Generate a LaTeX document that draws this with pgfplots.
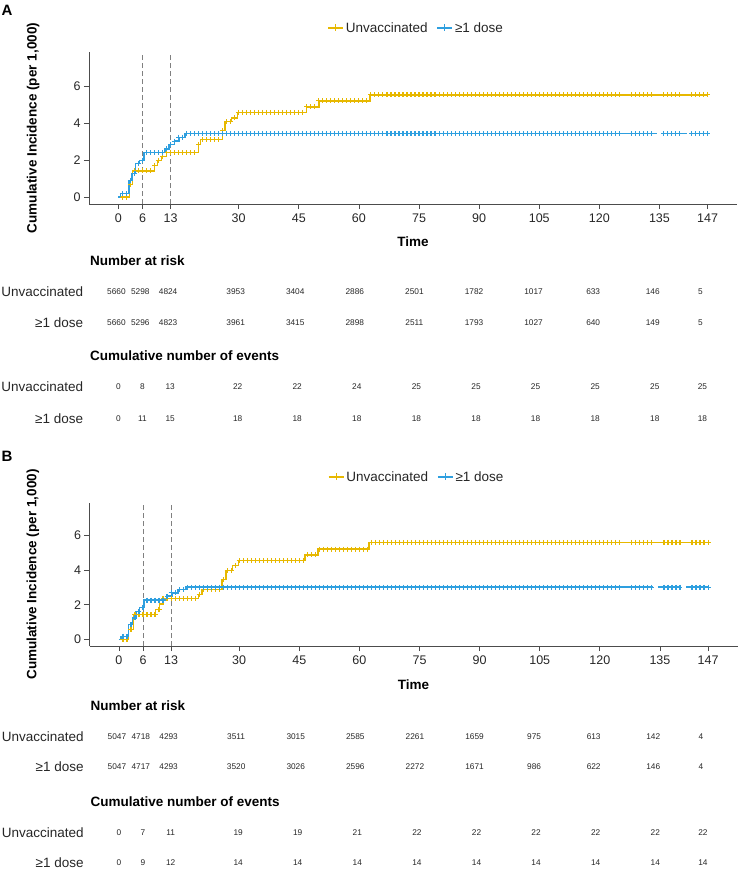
\documentclass[border=0pt]{standalone}
\usepackage{fontspec}
\setmainfont{Liberation Sans}
\usepackage{pgfplots}
\usepackage{pgfplotstable}
\pgfplotsset{compat=1.18}
\definecolor{yel}{HTML}{E7B800}
\definecolor{blu}{HTML}{2E9FDF}
\newcommand{\tickfont}{\fontsize{12.5}{15}\selectfont}
\newcommand{\labfont}{\fontsize{13.5}{16}\selectfont}
\newcommand{\numfont}{\fontsize{8.3}{10}\selectfont}
\pgfplotsset{
  mylegimg/.style={legend image code/.code={\draw[mark repeat=2,mark phase=2,##1] plot coordinates {(0pt,0pt)(7.5pt,0pt)(15pt,0pt)};}},
  kmaxis/.style={
    scale only axis, width=648pt,
    xmin=-7.35, xmax=154.35, ymin=-0.375, ymax=7.875,
    axis lines*=left,
    axis line style={black!70, line width=0.8pt},
    tick style={black!70, line width=0.8pt},
    tick align=outside, major tick length=5pt,
    xtick={0,6,13,30,45,60,75,90,105,120,135,147},
    ytick={0,2,4,6},
    /pgf/number format/assume math mode=true,
    tick label style={font=\tickfont, text=black!85},
    xticklabel style={yshift=-1.5pt},
    xlabel={Time}, ylabel={Cumulative Incidence (per 1,000)},
    label style={font=\bfseries\labfont},
    legend columns=2,
    legend style={draw=none, fill=none, font=\labfont, text=black!85, anchor=center,
      /tikz/every even column/.append style={column sep=7pt}},
    clip=false,
  },
  tabaxis/.style={
    scale only axis, width=648pt,
    xmin=-7.42, xmax=155.7, ymin=0, ymax=1,
    axis line style={draw=none}, tick style={draw=none},
    xtick=\empty, ytick={0,1},
    major tick length=0pt,
    yticklabels={{≥1 dose},{Unvaccinated}},
    yticklabel style={font=\labfont, text=black!85, inner sep=0pt, anchor=east, xshift=-5.7pt},
    title style={at={(axis description cs:0,1)}, anchor=west, yshift=25pt, xshift=1pt, font=\bfseries\labfont, inner sep=0pt},
    clip=false,
    nodes near coords, point meta=explicit symbolic,
    nodes near coords align=center,
    every node near coord/.append style={font=\numfont, text=black!85, inner sep=0pt},
  },
  curve/.style={const plot, line width=1.4pt},
  cens/.style={only marks, mark=+, mark size=2.5pt, mark options={line width=1.1pt}},
}
\pgfplotstableread{
t yA bA yB bB
1 0 0.18 0 0.19
2 0 0.18 0 0.19
3 0.7 0.91 0.58 0.87
4 1.42 1.29 1.44 1.25
5 1.42 1.82 1.44 1.63
6 1.42 2.0 1.44 1.83
7 1.42 2.41 1.44 2.27
8 1.42 2.41 1.44 2.27
9 1.72 2.41 1.44 2.27
10 2.0 2.41 1.73 2.27
11 2.2 2.41 2.37 2.27
12 2.42 2.62 2.37 2.5
13 2.42 2.86 2.37 2.69
14 2.42 3.04 2.37 2.69
15 2.42 3.25 2.37 2.88
16 2.42 3.25 2.37 2.88
17 2.42 3.45 2.37 3.02
18 2.42 3.45 2.37 3.02
19 2.42 3.45 2.37 3.02
20 2.86 3.45 2.6 3.02
21 3.12 3.45 2.88 3.02
22 3.12 3.45 2.88 3.02
23 3.12 3.45 2.88 3.02
24 3.12 3.45 2.88 3.02
25 3.12 3.45 2.88 3.02
26 3.6 3.45 3.46 3.02
27 4.1 3.45 3.98 3.02
28 4.1 3.45 3.98 3.02
29 4.3 3.45 4.27 3.02
30 4.6 3.45 4.56 3.02
31 4.6 3.45 4.56 3.02
32 4.6 3.45 4.56 3.02
33 4.6 3.45 4.56 3.02
34 4.6 3.45 4.56 3.02
35 4.6 3.45 4.56 3.02
36 4.6 3.45 4.56 3.02
37 4.6 3.45 4.56 3.02
38 4.6 3.45 4.56 3.02
39 4.6 3.45 4.56 3.02
40 4.6 3.45 4.56 3.02
41 4.6 3.45 4.56 3.02
42 4.6 3.45 4.56 3.02
43 4.6 3.45 4.56 3.02
44 4.6 3.45 4.56 3.02
45 4.6 3.45 4.56 3.02
46 4.6 3.45 4.56 3.02
47 4.9 3.45 4.88 3.02
48 4.9 3.45 4.88 3.02
49 4.9 3.45 4.88 3.02
50 5.22 3.45 5.22 3.02
51 5.22 3.45 5.22 3.02
52 5.22 3.45 5.22 3.02
53 5.22 3.45 5.22 3.02
54 5.22 3.45 5.22 3.02
55 5.22 3.45 5.22 3.02
56 5.22 3.45 5.22 3.02
57 5.22 3.45 5.22 3.02
58 5.22 3.45 5.22 3.02
59 5.22 3.45 5.22 3.02
60 5.22 3.45 5.22 3.02
61 5.22 3.45 5.22 3.02
62 5.22 3.45 5.22 3.02
63 5.55 3.45 5.6 3.02
64 5.55 3.45 5.6 3.02
65 5.55 3.45 5.6 3.02
66 5.55 3.45 5.6 3.02
67 5.55 3.45 5.6 3.02
68 5.55 3.45 5.6 3.02
69 5.55 3.45 5.6 3.02
70 5.55 3.45 5.6 3.02
71 5.55 3.45 5.6 3.02
72 5.55 3.45 5.6 3.02
73 5.55 3.45 5.6 3.02
74 5.55 3.45 5.6 3.02
75 5.55 3.45 5.6 3.02
76 5.55 3.45 5.6 3.02
77 5.55 3.45 5.6 3.02
78 5.55 3.45 5.6 3.02
79 5.55 3.45 5.6 3.02
80 5.55 3.45 5.6 3.02
81 5.55 3.45 5.6 3.02
82 5.55 3.45 5.6 3.02
83 5.55 3.45 5.6 3.02
84 5.55 3.45 5.6 3.02
85 5.55 3.45 5.6 3.02
86 5.55 3.45 5.6 3.02
87 5.55 3.45 5.6 3.02
88 5.55 3.45 5.6 3.02
89 5.55 3.45 5.6 3.02
90 5.55 3.45 5.6 3.02
91 5.55 3.45 5.6 3.02
92 5.55 3.45 5.6 3.02
93 5.55 3.45 5.6 3.02
94 5.55 3.45 5.6 3.02
95 5.55 3.45 5.6 3.02
96 5.55 3.45 5.6 3.02
97 5.55 3.45 5.6 3.02
98 5.55 3.45 5.6 3.02
99 5.55 3.45 5.6 3.02
100 5.55 3.45 5.6 3.02
101 5.55 3.45 5.6 3.02
102 5.55 3.45 5.6 3.02
103 5.55 3.45 5.6 3.02
104 5.55 3.45 5.6 3.02
105 5.55 3.45 5.6 3.02
106 5.55 3.45 5.6 3.02
107 5.55 3.45 5.6 3.02
108 5.55 3.45 5.6 3.02
109 5.55 3.45 5.6 3.02
110 5.55 3.45 5.6 3.02
111 5.55 3.45 5.6 3.02
112 5.55 3.45 5.6 3.02
113 5.55 3.45 5.6 3.02
114 5.55 3.45 5.6 3.02
115 5.55 3.45 5.6 3.02
116 5.55 3.45 5.6 3.02
117 5.55 3.45 5.6 3.02
118 5.55 3.45 5.6 3.02
119 5.55 3.45 5.6 3.02
120 5.55 3.45 5.6 3.02
121 5.55 3.45 5.6 3.02
122 5.55 3.45 5.6 3.02
123 5.55 3.45 5.6 3.02
124 5.55 3.45 5.6 3.02
125 5.55 3.45 5.6 3.02
128 5.55 3.45 5.6 3.02
129 5.55 3.45 5.6 3.02
130 5.55 3.45 5.6 3.02
131 5.55 3.45 5.6 3.02
132 5.55 3.45 5.6 3.02
133 5.55 3.45 5.6 3.02
136 5.55 3.45 5.6 3.02
137 5.55 3.45 5.6 3.02
138 5.55 3.45 5.6 3.02
139 5.55 3.45 5.6 3.02
140 5.55 3.45 5.6 3.02
143 5.55 3.45 5.6 3.02
144 5.55 3.45 5.6 3.02
145 5.55 3.45 5.6 3.02
146 5.55 3.45 5.6 3.02
147 5.55 3.45 5.6 3.02
}\censor
\begin{document}
\begin{tikzpicture}
\path[use as bounding box] (0pt,0pt) rectangle (738pt,-873pt);
% ---------------- Panel A ----------------
\node[anchor=west, inner sep=0pt, font=\bfseries\fontsize{15}{18}\selectfont] at (1.5pt,-10pt) {A};
\begin{axis}[kmaxis, at={(89pt,-204pt)}, anchor=south west, height=152pt,
  xlabel style={at={(axis description cs:0.5,-0.25)}, anchor=center},
  ylabel style={at={(axis description cs:-0.0864,0.5)}, anchor=center},
  legend style={at={(axis description cs:0.505,1.158)}}]
\addlegendimage{mylegimg, yel, line width=1.4pt, mark=+, mark size=3.5pt, mark options={line width=1.1pt}}
\addlegendentry{Unvaccinated}
\addlegendimage{mylegimg, blu, line width=1.4pt, mark=+, mark size=3.5pt, mark options={line width=1.1pt}}
\addlegendentry{≥1 dose}
\addplot[gray, dash pattern=on 5pt off 3pt, line width=0.7pt] coordinates {(6,-0.375) (6,7.875)};
\addplot[gray, dash pattern=on 5pt off 3pt, line width=0.7pt] coordinates {(13,-0.375) (13,7.875)};
\addplot[curve, yel] coordinates {(0,0) (2.7,0.7) (3.5,1.42) (9,1.72) (9.75,2.0) (10.75,2.2) (12,2.42) (19.9,2.86) (20.5,3.12) (25.9,3.6) (26.6,4.1) (28.25,4.3) (29.75,4.6) (46.9,4.9) (50,5.22) (62.8,5.55) (147,5.55)};
\addplot[cens, yel] table[x=t, y=yA] {\censor};
\addplot[curve, blu] coordinates {(0,0) (0.5,0.18) (2.67,0.91) (3.4,1.29) (4.3,1.82) (5.25,2.0) (6.4,2.41) (11.6,2.62) (12.6,2.86) (14,3.04) (15.2,3.25) (16.6,3.45) (134.4,3.45)};
\addplot[curve, blu] coordinates {(135.8,3.45) (141.8,3.45)};
\addplot[curve, blu] coordinates {(142.8,3.45) (147,3.45)};
\addplot[cens, blu] table[x=t, y=bA] {\censor};
\end{axis}
\begin{axis}[tabaxis, at={(89pt,-323pt)}, anchor=south west, height=31pt, title={Number at risk}]
\addplot[only marks, mark=none, every node near coord/.append style={xshift=-2pt}] coordinates {
(0,1)[5660] (6,1)[5298] (13,1)[4824] (30,1)[3953] (45,1)[3404] (60,1)[2886] (75,1)[2501] (90,1)[1782] (105,1)[1017] (120,1)[633] (135,1)[146] (147,1)[5]
(0,0)[5660] (6,0)[5296] (13,0)[4823] (30,0)[3961] (45,0)[3415] (60,0)[2898] (75,0)[2511] (90,0)[1793] (105,0)[1027] (120,0)[640] (135,0)[149] (147,0)[5]};
\end{axis}
\begin{axis}[tabaxis, at={(89pt,-419pt)}, anchor=south west, height=32pt, title={Cumulative number of events}]
\addplot[only marks, mark=none] coordinates {
(0,1)[0] (6,1)[8] (13,1)[13] (30,1)[22] (45,1)[22] (60,1)[24] (75,1)[25] (90,1)[25] (105,1)[25] (120,1)[25] (135,1)[25] (147,1)[25]
(0,0)[0] (6,0)[11] (13,0)[15] (30,0)[18] (45,0)[18] (60,0)[18] (75,0)[18] (90,0)[18] (105,0)[18] (120,0)[18] (135,0)[18] (147,0)[18]};
\end{axis}
% ---------------- Panel B ----------------
\node[anchor=west, inner sep=0pt, font=\bfseries\fontsize{15}{18}\selectfont] at (1.5pt,-456pt) {B};
\begin{axis}[kmaxis, at={(89.5pt,-646pt)}, anchor=south west, height=143pt,
  xlabel style={at={(axis description cs:0.5,-0.273)}, anchor=center},
  ylabel style={at={(axis description cs:-0.0872,0.5)}, anchor=center},
  legend style={at={(axis description cs:0.505,1.182)}}]
\addlegendimage{mylegimg, yel, line width=1.4pt, mark=+, mark size=3.5pt, mark options={line width=1.1pt}}
\addlegendentry{Unvaccinated}
\addlegendimage{mylegimg, blu, line width=1.4pt, mark=+, mark size=3.5pt, mark options={line width=1.1pt}}
\addlegendentry{≥1 dose}
\addplot[gray, dash pattern=on 5pt off 3pt, line width=0.7pt] coordinates {(6,-0.375) (6,7.875)};
\addplot[gray, dash pattern=on 5pt off 3pt, line width=0.7pt] coordinates {(13,-0.375) (13,7.875)};
\addplot[curve, yel] coordinates {(0,0) (2.4,0.58) (3.6,1.44) (9.1,1.73) (10.1,2.05) (11,2.37) (19.8,2.6) (20.7,2.88) (25.7,3.46) (26.75,3.98) (28.4,4.27) (29.8,4.56) (46.4,4.88) (49.7,5.22) (62.4,5.6) (147,5.6)};
\addplot[cens, yel] table[x=t, y=yB] {\censor};
\addplot[curve, blu] coordinates {(0,0) (0.5,0.19) (2.4,0.87) (3.4,1.25) (4.25,1.63) (5.1,1.83) (6.2,2.27) (12,2.5) (13.2,2.69) (14.7,2.88) (16.75,3.02) (133.3,3.02)};
\addplot[curve, blu] coordinates {(134.5,3.02) (140.3,3.02)};
\addplot[curve, blu] coordinates {(141.5,3.02) (147,3.02)};
\addplot[cens, blu] table[x=t, y=bB] {\censor};
\end{axis}
\begin{axis}[tabaxis, at={(89.5pt,-767pt)}, anchor=south west, height=30pt, title={Number at risk}]
\addplot[only marks, mark=none, every node near coord/.append style={xshift=-2pt}] coordinates {
(0,1)[5047] (6,1)[4718] (13,1)[4293] (30,1)[3511] (45,1)[3015] (60,1)[2585] (75,1)[2261] (90,1)[1659] (105,1)[975] (120,1)[613] (135,1)[142] (147,1)[4]
(0,0)[5047] (6,0)[4717] (13,0)[4293] (30,0)[3520] (45,0)[3026] (60,0)[2596] (75,0)[2272] (90,0)[1671] (105,0)[986] (120,0)[622] (135,0)[146] (147,0)[4]};
\end{axis}
\begin{axis}[tabaxis, at={(89.5pt,-863pt)}, anchor=south west, height=30pt, title={Cumulative number of events}]
\addplot[only marks, mark=none] coordinates {
(0,1)[0] (6,1)[7] (13,1)[11] (30,1)[19] (45,1)[19] (60,1)[21] (75,1)[22] (90,1)[22] (105,1)[22] (120,1)[22] (135,1)[22] (147,1)[22]
(0,0)[0] (6,0)[9] (13,0)[12] (30,0)[14] (45,0)[14] (60,0)[14] (75,0)[14] (90,0)[14] (105,0)[14] (120,0)[14] (135,0)[14] (147,0)[14]};
\end{axis}
\end{tikzpicture}
\end{document}
